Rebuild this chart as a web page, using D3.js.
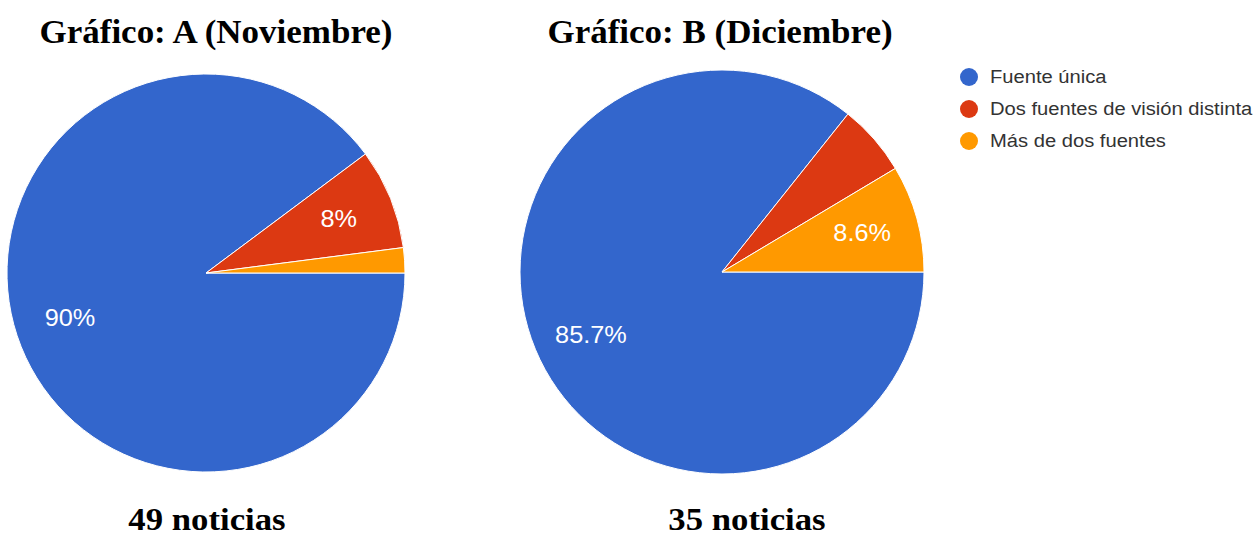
<!DOCTYPE html>
<html>
<head>
<meta charset="utf-8">
<script src="https://cdn.jsdelivr.net/npm/d3@7"></script>
<style>
  body { margin: 0; background: #fff; }
  svg { display: block; }
</style>
</head>
<body>
<svg id="chart" width="1259" height="537"></svg>
<script>
// data
var categories = ["Fuente única", "Dos fuentes de visión distinta", "Más de dos fuentes"];
var colors = ["#3366cc", "#dc3912", "#ff9900"];
var noviembre = [44, 4, 1];   // 49 noticias
var diciembre = [30, 2, 3];   // 35 noticias
var titles = ["Gráfico: A (Noviembre)", "Gráfico: B (Diciembre)"];
var footers = ["49 noticias", "35 noticias"];

var svg = d3.select("#chart");

var color = d3.scaleOrdinal().domain(categories).range(colors);

var pie = d3.pie()
  .sort(null)
  .startAngle(Math.PI / 2)
  .endAngle(Math.PI / 2 + 2 * Math.PI);

var charts = [
  {values: noviembre, cx: 206, cy: 273, r: 199, title: titles[0], tx: 216, foot: footers[0], fx: 207},
  {values: diciembre, cx: 722, cy: 272, r: 202, title: titles[1], tx: 720, foot: footers[1], fx: 747}
];

// widen text a little, the original renders a bit wider than Liberation fonts
function stretch(sel, k) {
  sel.each(function() {
    var w = this.getComputedTextLength();
    d3.select(this).attr("textLength", w * k).attr("lengthAdjust", "spacingAndGlyphs");
  });
}

charts.forEach(function(c) {
  var total = d3.sum(c.values);
  var data = c.values.map(function(v, i) { return {cat: categories[i], value: v}; });
  var arcs = pie.value(function(d) { return d.value; })(data);

  var arc = d3.arc().innerRadius(0).outerRadius(c.r);
  var labelArc = d3.arc().innerRadius(c.r * 0.72).outerRadius(c.r * 0.72);

  var g = svg.append("g").attr("transform", "translate(" + c.cx + "," + c.cy + ")");

  g.selectAll("path").data(arcs).enter().append("path")
    .attr("d", arc)
    .attr("fill", function(d) { return color(d.data.cat); })
    .attr("stroke", "#fff")
    .attr("stroke-width", 1);

  var lbl = g.selectAll("text").data(arcs.filter(function(d) { return d.value / total > 0.075; }))
    .enter().append("text")
    .attr("transform", function(d) { return "translate(" + labelArc.centroid(d) + ")"; })
    .attr("text-anchor", "middle")
    .attr("dominant-baseline", "central")
    .attr("fill", "#fff")
    .style("font-family", "Arial, 'Liberation Sans', sans-serif")
    .style("font-size", "23px")
    .text(function(d) {
      var p = d.value / total * 100;
      var s = p.toFixed(1);
      if (Math.abs(p - Math.round(p)) < 0.25 || p > 89) s = Math.round(p).toString();
      return s + "%";
    });
  stretch(lbl, 1.1);

  var t = svg.append("text")
    .attr("x", c.tx).attr("y", 43)
    .attr("text-anchor", "middle")
    .style("font-family", "'Liberation Serif', 'Times New Roman', serif")
    .style("font-weight", "bold")
    .style("font-size", "33px")
    .attr("fill", "#000")
    .text(c.title);
  stretch(t, 1.06);

  var f = svg.append("text")
    .attr("x", c.fx).attr("y", 530)
    .attr("text-anchor", "middle")
    .style("font-family", "'Liberation Serif', 'Times New Roman', serif")
    .style("font-weight", "bold")
    .style("font-size", "31px")
    .attr("fill", "#000")
    .text(c.foot);
  stretch(f, 1.12);
});

// legend
var legend = svg.append("g").attr("transform", "translate(969,77)");
var item = legend.selectAll("g").data(categories).enter().append("g")
  .attr("transform", function(d, i) { return "translate(0," + (i * 32) + ")"; });
item.append("circle").attr("r", 9).attr("fill", function(d) { return color(d); });
var lt = item.append("text")
  .attr("x", 21)
  .attr("dominant-baseline", "central")
  .style("font-family", "Arial, 'Liberation Sans', sans-serif")
  .style("font-size", "18px")
  .attr("fill", "#333")
  .text(function(d) { return d; });
stretch(lt, 1.12);
</script>
</body>
</html>
